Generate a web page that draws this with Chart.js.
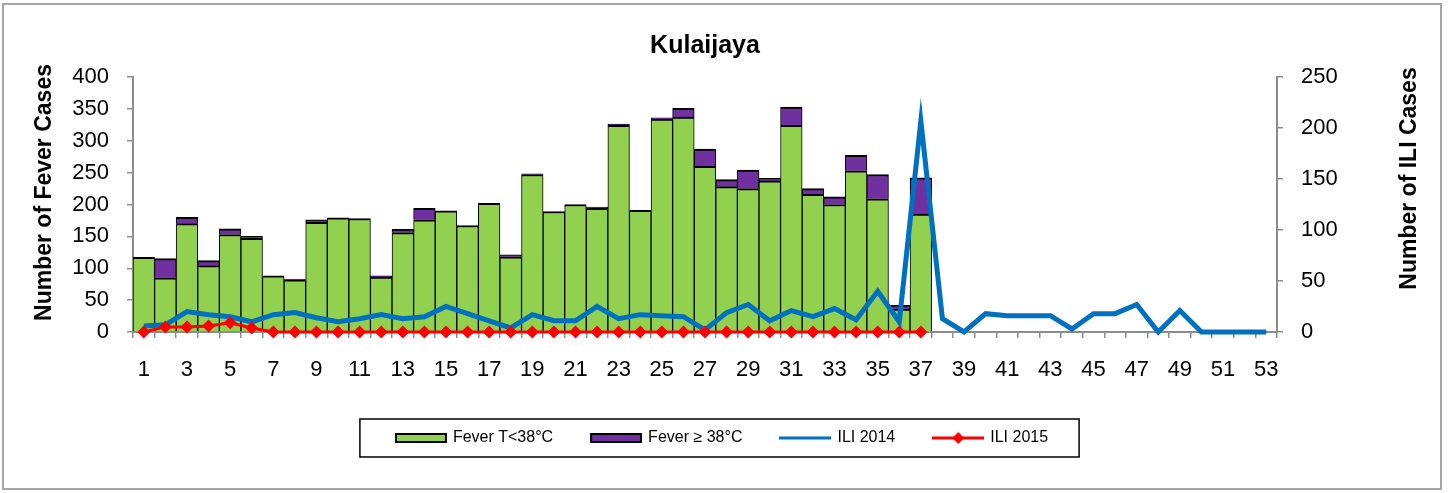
<!DOCTYPE html>
<html>
<head>
<meta charset="utf-8">
<script src="https://cdn.jsdelivr.net/npm/chart.js@4.4.1/dist/chart.umd.min.js"></script>
<style>
  html, body { margin: 0; padding: 0; background: #fff; }
</style>
</head>
<body>
<canvas id="kulaiChart" width="1448" height="493"></canvas>
<script>
// epi weeks
const weeks = ['1','2','3','4','5','6','7','8','9','10','11','12','13','14','15','16','17','18','19','20',
  '21','22','23','24','25','26','27','28','29','30','31','32','33','34','35','36','37','38','39','40',
  '41','42','43','44','45','46','47','48','49','50','51','52','53'];

// fever cases, 2015 (weeks 1-37)
const feverBelow38 = [117, 85, 170, 104, 153, 147, 88, 82, 172, 179, 178, 86, 156, 176, 190, 167, 202, 118, 247, 189,
  200, 194, 324, 191, 334, 337, 260, 228, 225, 237, 324, 216, 200, 253, 209, 36, 185];
const feverAbove38 = [0, 30, 10, 8, 9, 3, 0, 1, 4, 0, 0, 2, 5, 18, 0, 0, 0, 3, 1, 0,
  0, 2, 2, 0, 2, 14, 27, 11, 29, 4, 29, 9, 12, 24, 38, 6, 57];

// ILI cases
const ili2014 = [6, 7, 20, 17, 15, 10, 17, 19, 14, 10, 13, 17, 13, 15, 25, 18, 11, 4, 17, 11,
  11, 25, 13, 17, 16, 15, 2, 19, 27, 11, 21, 15, 23, 12, 40, 10, 207, 13, 0, 18,
  16, 16, 16, 3, 18, 18, 27, 0, 21, 0, 0, 0, 0];
const ili2015 = [0, 5, 5, 6, 9, 4, 0, 0, 0, 0, 0, 0, 0, 0, 0, 0, 0, 0, 0, 0,
  0, 0, 0, 0, 0, 0, 0, 0, 0, 0, 0, 0, 0, 0, 0, 0, 0];

const feverTicks = [0, 50, 100, 150, 200, 250, 300, 350, 400];
const iliTicks = [0, 50, 100, 150, 200, 250];

const FONT = "'Liberation Sans', Arial, sans-serif";
const AXIS_GREY = '#8c8c8c';
Chart.defaults.font.family = FONT;
Chart.defaults.color = '#000';

// little legend pictures, one per dataset
function swatch(draw) {
  const c = document.createElement('canvas');
  c.width = 52;
  c.height = 14;
  draw(c.getContext('2d'));
  return c;
}
const swatches = [
  swatch(ctx => { ctx.fillStyle = '#92d050'; ctx.fillRect(1, 3, 50, 8); ctx.strokeStyle = '#000'; ctx.lineWidth = 2; ctx.strokeRect(1, 3, 50, 8); }),
  swatch(ctx => { ctx.fillStyle = '#7030a0'; ctx.fillRect(1, 3, 50, 8); ctx.strokeStyle = '#000'; ctx.lineWidth = 2; ctx.strokeRect(1, 3, 50, 8); }),
  swatch(ctx => { ctx.strokeStyle = '#0070c0'; ctx.lineWidth = 3; ctx.beginPath(); ctx.moveTo(0, 7); ctx.lineTo(52, 7); ctx.stroke(); }),
  swatch(ctx => {
    ctx.strokeStyle = '#ff0000'; ctx.lineWidth = 3; ctx.beginPath(); ctx.moveTo(0, 7); ctx.lineTo(52, 7); ctx.stroke();
    ctx.fillStyle = '#ff0000'; ctx.beginPath(); ctx.moveTo(26, 1); ctx.lineTo(32, 7); ctx.lineTo(26, 13); ctx.lineTo(20, 7); ctx.closePath(); ctx.fill();
  })
];

// outer frame, legend box and the two axis titles
const decorations = {
  id: 'decorations',
  beforeDraw(chart) {
    const ctx = chart.ctx;
    ctx.save();
    ctx.fillStyle = '#fff';
    ctx.fillRect(0, 0, chart.width, chart.height);
    ctx.strokeStyle = '#a6a6a6';
    ctx.lineWidth = 2;
    ctx.strokeRect(3, 4, 1438, 485);
    ctx.restore();
  },
  afterDraw(chart) {
    const ctx = chart.ctx;
    const boxes = chart.legend.legendHitBoxes;
    if (boxes && boxes.length) {
      const left = Math.min(...boxes.map(b => b.left)) - 37;
      const right = Math.max(...boxes.map(b => b.left + b.width)) + 31;
      const mid = boxes[0].top + boxes[0].height / 2;
      ctx.save();
      ctx.strokeStyle = '#000';
      ctx.lineWidth = 1.5;
      ctx.strokeRect(left, mid - 19, right - left, 38);
      ctx.restore();
    }
    const area = chart.chartArea;
    const mid = (area.top + area.bottom) / 2;
    ctx.save();
    ctx.font = 'bold 23px ' + FONT;
    ctx.fillStyle = '#000';
    ctx.textAlign = 'center';
    ctx.textBaseline = 'middle';
    ctx.translate(area.left - 88, mid - 12);
    ctx.rotate(-Math.PI / 2);
    ctx.fillText('Number of Fever Cases', 0, 0);
    ctx.restore();
    ctx.save();
    ctx.font = 'bold 23px ' + FONT;
    ctx.fillStyle = '#000';
    ctx.textAlign = 'center';
    ctx.textBaseline = 'middle';
    ctx.translate(area.right + 133, mid - 26);
    ctx.rotate(-Math.PI / 2);
    ctx.fillText('Number of ILI Cases', 0, 0);
    ctx.restore();
  }
};

const ctx = document.getElementById('kulaiChart').getContext('2d');
new Chart(ctx, {
  type: 'bar',
  data: {
    labels: weeks,
    datasets: [
      {
        label: 'Fever T<38°C',
        data: feverBelow38,
        backgroundColor: '#92d050',
        borderColor: '#000',
        borderWidth: { top: 2, left: 1, right: 1, bottom: 0 },
        yAxisID: 'yFever',
        stack: 'fever',
        barPercentage: 1,
        categoryPercentage: 1,
        order: 2
      },
      {
        label: 'Fever ≥ 38°C',
        data: feverAbove38,
        backgroundColor: '#7030a0',
        borderColor: '#000',
        borderWidth: { top: 2, left: 1, right: 1, bottom: 0 },
        yAxisID: 'yFever',
        stack: 'fever',
        barPercentage: 1,
        categoryPercentage: 1,
        order: 3
      },
      {
        type: 'line',
        label: 'ILI 2014',
        data: ili2014,
        borderColor: '#0070c0',
        backgroundColor: '#0070c0',
        borderWidth: 5,
        pointRadius: 0,
        tension: 0,
        yAxisID: 'yIli',
        clip: false,
        order: 1
      },
      {
        type: 'line',
        label: 'ILI 2015',
        data: ili2015,
        borderColor: '#ff0000',
        backgroundColor: '#ff0000',
        borderWidth: 3,
        pointStyle: 'rectRot',
        pointRadius: 6.5,
        pointBorderWidth: 0,
        pointBackgroundColor: '#ff0000',
        tension: 0,
        yAxisID: 'yIli',
        clip: false,
        order: 0
      }
    ]
  },
  options: {
    responsive: false,
    animation: false,
    devicePixelRatio: 1,
    layout: { padding: { left: 4, right: 7, top: 0, bottom: 37 } },
    plugins: {
      title: {
        display: true,
        fullSize: false,
        text: 'Kulaijaya',
        color: '#000',
        font: { size: 25, weight: 'bold' },
        padding: { top: 31, bottom: 16 }
      },
      legend: {
        position: 'bottom',
        labels: {
          usePointStyle: true,
          pointStyleWidth: 48,
          padding: 39,
          color: '#000',
          font: { size: 16 },
          generateLabels(chart) {
            return chart.data.datasets.map((ds, i) => ({
              text: ds.label,
              pointStyle: swatches[i],
              datasetIndex: i,
              hidden: !chart.isDatasetVisible(i),
              fillStyle: 'transparent',
              strokeStyle: 'transparent',
              lineWidth: 0,
              fontColor: '#000'
            }));
          }
        }
      },
      tooltip: { enabled: false }
    },
    scales: {
      x: {
        stacked: true,
        offset: true,
        grid: { offset: true, drawOnChartArea: false, tickLength: 6, color: AXIS_GREY, lineWidth: 1.5 },
        border: { color: AXIS_GREY, width: 2 },
        ticks: {
          autoSkip: false,
          maxRotation: 0,
          minRotation: 0,
          padding: 19,
          font: { size: 22 },
          color: '#000',
          callback: (v, i) => (i % 2 === 0 ? weeks[i] : '')
        },
        afterFit(scale) { scale.height = 59; }
      },
      yFever: {
        position: 'left',
        stacked: true,
        min: feverTicks[0],
        max: feverTicks[feverTicks.length - 1],
        grid: { drawOnChartArea: false, tickLength: 6, color: AXIS_GREY, lineWidth: 1.5 },
        border: { color: AXIS_GREY, width: 2 },
        ticks: { padding: 18, font: { size: 22 }, color: '#000' },
        afterBuildTicks(scale) { scale.ticks = feverTicks.map(v => ({ value: v })); },
        afterFit(scale) { scale.width = 129; }
      },
      yIli: {
        position: 'right',
        min: iliTicks[0],
        max: iliTicks[iliTicks.length - 1],
        grid: { drawOnChartArea: false, tickLength: 6, color: AXIS_GREY, lineWidth: 1.5 },
        border: { color: AXIS_GREY, width: 2 },
        ticks: { padding: 18, font: { size: 22 }, color: '#000' },
        afterBuildTicks(scale) { scale.ticks = iliTicks.map(v => ({ value: v })); },
        afterFit(scale) { scale.width = 164; }
      }
    }
  },
  plugins: [decorations]
});
</script>
</body>
</html>
